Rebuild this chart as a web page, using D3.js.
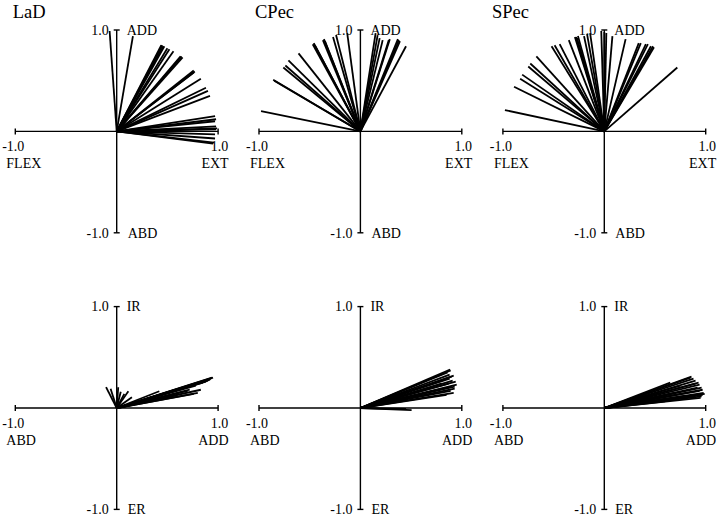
<!DOCTYPE html>
<html>
<head>
<meta charset="utf-8">
<script src="https://cdn.jsdelivr.net/npm/d3@7"></script>
<style>
  html, body { margin: 0; padding: 0; background: #fff; }
  svg { display: block; }
  text { font-family: "Liberation Serif", "Times New Roman", serif; fill: #000; }
</style>
</head>
<body>
<svg id="chart" width="720" height="519"></svg>
<script>
// ---------- DATA ----------
const muscles = ["LaD", "CPec", "SPec"];

// Top row: x = FLEX(-)/EXT(+), y = ABD(-)/ADD(+)
const ladTop = [
  [-0.07, 0.99], [0.16, 0.94], [0.44, 0.85], [0.45, 0.85], [0.46, 0.84], [0.47, 0.84],
  [0.50, 0.82], [0.52, 0.81], [0.56, 0.79], [0.64, 0.74], [0.65, 0.73], [0.63, 0.74],
  [0.76, 0.60], [0.77, 0.59], [0.76, 0.58], [0.83, 0.52], [0.88, 0.43], [0.90, 0.40],
  [0.92, 0.35], [0.97, 0.15], [0.98, 0.12], [0.97, 0.10], [0.98, 0.05], [0.99, 0.03],
  [0.98, 0.02], [0.97, -0.03], [0.97, -0.07], [0.96, -0.11], [0.95, -0.12]
];
const cpecTop = [
  [-0.98, 0.20], [-0.86, 0.51], [-0.85, 0.50], [-0.76, 0.63], [-0.74, 0.65], [-0.71, 0.70],
  [-0.61, 0.77], [-0.47, 0.86], [-0.46, 0.87], [-0.45, 0.85], [-0.37, 0.90], [-0.36, 0.91],
  [-0.35, 0.89], [-0.27, 0.93], [-0.24, 0.95], [-0.13, 0.97], [0.15, 0.97], [0.17, 0.95],
  [0.19, 0.92], [0.22, 0.90], [0.28, 0.90], [0.29, 0.91], [0.38, 0.90], [0.39, 0.89],
  [0.37, 0.91], [0.45, 0.84]
];
const specTop = [
  [-0.98, 0.21], [-0.89, 0.44], [-0.83, 0.52], [-0.81, 0.56], [-0.75, 0.64], [-0.73, 0.67],
  [-0.67, 0.74], [-0.52, 0.84], [-0.49, 0.85], [-0.44, 0.86], [-0.35, 0.90], [-0.29, 0.93],
  [-0.28, 0.93], [-0.27, 0.92], [-0.26, 0.94], [-0.20, 0.94], [-0.17, 0.96], [-0.14, 0.97],
  [-0.03, 0.99], [0.00, 0.98], [0.02, 0.97], [0.08, 0.94], [0.21, 0.91], [0.34, 0.87],
  [0.36, 0.87], [0.41, 0.86], [0.43, 0.86], [0.46, 0.84], [0.48, 0.84], [0.49, 0.83],
  [0.72, 0.63]
];

// Bottom row: x = ABD(-)/ADD(+), y = ER(-)/IR(+)
const ladBottom = [
  [-0.105, 0.205], [-0.06, 0.19], [0.015, 0.205], [0.04, 0.16], [0.075, 0.14], [0.115, 0.165],
  [0.15, 0.105], [0.42, 0.165], [0.94, 0.30], [0.95, 0.30], [0.93, 0.29], [0.92, 0.28],
  [0.90, 0.27], [0.88, 0.26], [0.85, 0.25], [0.83, 0.18], [0.80, 0.15], [0.76, 0.14],
  [0.78, 0.22], [0.72, 0.18], [0.70, 0.17], [0.56, 0.12], [0.60, 0.13], [0.65, 0.20]
];
const cpecBottom = [
  [0.885, 0.38], [0.89, 0.37], [0.86, 0.35], [0.88, 0.33], [0.92, 0.32], [0.90, 0.31],
  [0.88, 0.29], [0.91, 0.27], [0.94, 0.26], [0.87, 0.24], [0.95, 0.23], [0.93, 0.21],
  [0.90, 0.21], [0.93, 0.19], [0.89, 0.17], [0.92, 0.15], [0.85, 0.13], [0.80, 0.24],
  [0.70, 0.20], [0.505, -0.02], [0.45, -0.01]
];
const specBottom = [
  [0.86, 0.31], [0.85, 0.30], [0.88, 0.29], [0.90, 0.27], [0.93, 0.25], [0.90, 0.24],
  [0.94, 0.23], [0.92, 0.20], [0.96, 0.20], [0.97, 0.18], [0.94, 0.17], [0.98, 0.15],
  [0.99, 0.14], [0.97, 0.13], [0.90, 0.12], [0.96, 0.115], [0.95, 0.10], [0.65, 0.25],
  [0.75, 0.22], [0.60, 0.065], [0.80, 0.12], [0.70, 0.15]
];

const tickLabels = ["-1.0", "1.0"];
const topAxisNames = { xNeg: "FLEX", xPos: "EXT", yPos: "ADD", yNeg: "ABD" };
const bottomAxisNames = { xNeg: "ABD", xPos: "ADD", yPos: "IR", yNeg: "ER" };

// ---------- LAYOUT ----------
const R = 101.4;
const colX = [116.7, 360.4, 604.3];
const rowY = [131.4, 408.0];
const titleX = [12.7, 255, 492];
const titleY = 17.5;

const svg = d3.select("#chart");

const panels = [
  { col: 0, row: 0, data: ladTop, names: topAxisNames, title: muscles[0] },
  { col: 1, row: 0, data: cpecTop, names: topAxisNames, title: muscles[1] },
  { col: 2, row: 0, data: specTop, names: topAxisNames, title: muscles[2] },
  { col: 0, row: 1, data: ladBottom, names: bottomAxisNames },
  { col: 1, row: 1, data: cpecBottom, names: bottomAxisNames },
  { col: 2, row: 1, data: specBottom, names: bottomAxisNames }
];

panels.forEach(p => {
  const cx = colX[p.col], cy = rowY[p.row];
  const x = d3.scaleLinear().domain([-1, 1]).range([cx - R, cx + R]);
  const y = d3.scaleLinear().domain([-1, 1]).range([cy + R, cy - R]);
  const g = svg.append("g");

  if (p.title) {
    g.append("text").attr("x", titleX[p.col]).attr("y", titleY)
      .attr("font-size", 18.5).text(p.title);
  }

  // axes
  const axis = g.append("g").attr("stroke", "#000").attr("stroke-width", 1.4).attr("fill", "none");
  axis.append("line").attr("x1", x(-1)).attr("x2", x(1)).attr("y1", y(0)).attr("y2", y(0));
  axis.append("line").attr("x1", x(0)).attr("x2", x(0)).attr("y1", y(-1)).attr("y2", y(1));
  [-1, 1].forEach(v => {
    axis.append("line").attr("x1", x(v)).attr("x2", x(v)).attr("y1", y(0) - 3).attr("y2", y(0) + 3);
    axis.append("line").attr("x1", x(0) - 3).attr("x2", x(0) + 3).attr("y1", y(v)).attr("y2", y(v));
  });

  // vectors
  g.append("g").selectAll("line").data(p.data).join("line")
    .attr("x1", x(0)).attr("y1", y(0))
    .attr("x2", d => x(d[0])).attr("y2", d => y(d[1]))
    .attr("stroke", "#000").attr("stroke-width", 1.8).attr("stroke-linecap", "butt");

  // labels
  const fs = 14;
  const t = g.append("g").attr("font-size", fs);
  t.append("text").attr("x", x(0) - 8).attr("y", y(1) + 4.5).attr("text-anchor", "end").text(tickLabels[1]);
  t.append("text").attr("x", x(0) + 10).attr("y", y(1) + 4.5).text(p.names.yPos);
  t.append("text").attr("x", x(0) - 8).attr("y", y(-1) + 4.8).attr("text-anchor", "end").text(tickLabels[0]);
  t.append("text").attr("x", x(0) + 11).attr("y", y(-1) + 4.8).text(p.names.yNeg);
  t.append("text").attr("x", x(-1) - 2).attr("y", y(0) + 19.5).attr("text-anchor", "middle").text(tickLabels[0]);
  t.append("text").attr("x", x(-1) - 9).attr("y", y(0) + 36.5).text(p.names.xNeg);
  t.append("text").attr("x", x(1) + 1.5).attr("y", y(0) + 19.5).attr("text-anchor", "middle").text(tickLabels[1]);
  t.append("text").attr("x", x(1) + 10.5).attr("y", y(0) + 36.5).attr("text-anchor", "end").text(p.names.xPos);
});
</script>
</body>
</html>
